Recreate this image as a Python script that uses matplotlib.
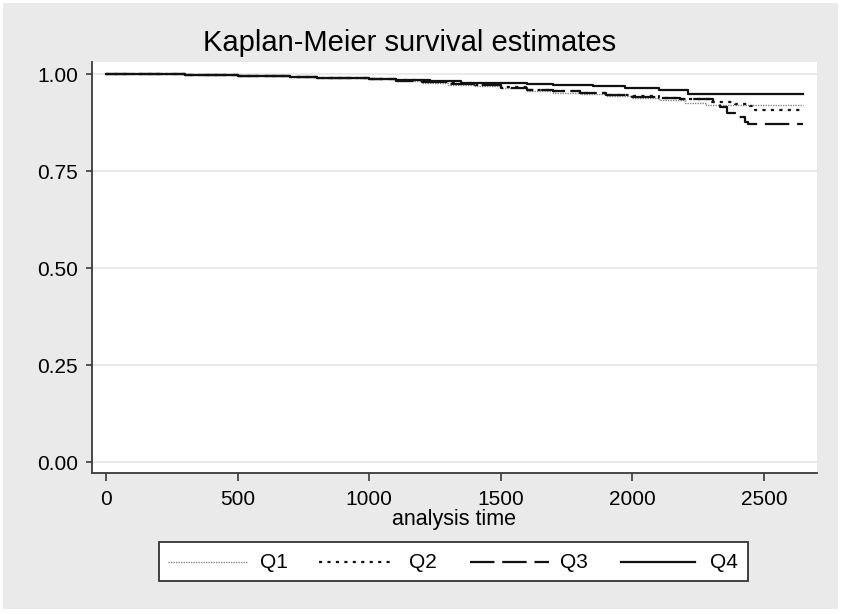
import matplotlib
matplotlib.use("Agg")
import matplotlib.pyplot as plt
from matplotlib.patches import Rectangle
from matplotlib.lines import Line2D

plt.rcParams['font.family'] = ['Liberation Sans', 'DejaVu Sans']

# ---- data ----
t_end = 2648

q1_t = [0, 100, 200, 300, 400, 500, 600, 700, 800, 900, 1000, 1100, 1200, 1300, 1400,
        1500, 1600, 1700, 1800, 1900, 2000, 2100, 2200, 2280]
q1_s = [1.000, 0.9995, 0.999, 0.998, 0.997, 0.996, 0.994, 0.993, 0.991, 0.989, 0.986,
        0.982, 0.978, 0.973, 0.968, 0.963, 0.956, 0.952, 0.948, 0.943, 0.938, 0.932,
        0.925, 0.921]

q2_t = [0, 100, 200, 300, 400, 500, 600, 700, 800, 900, 1000, 1100, 1200, 1300, 1400,
        1500, 1600, 1700, 1800, 1900, 2000, 2100, 2180, 2300, 2390, 2447, 2466]
q2_s = [1.000, 0.9995, 0.999, 0.998, 0.997, 0.996, 0.994, 0.993, 0.991, 0.989, 0.987,
        0.984, 0.980, 0.976, 0.972, 0.966, 0.960, 0.956, 0.952, 0.947, 0.943, 0.939,
        0.935, 0.929, 0.924, 0.918, 0.907]

q3_t = [0, 100, 200, 300, 400, 500, 600, 700, 800, 900, 1000, 1100, 1200, 1300, 1400,
        1500, 1600, 1700, 1800, 1900, 2000, 2100, 2180, 2306, 2333, 2359, 2397, 2428, 2439]
q3_s = [1.000, 0.9995, 0.999, 0.998, 0.997, 0.996, 0.994, 0.993, 0.991, 0.989, 0.987,
        0.983, 0.979, 0.975, 0.971, 0.965, 0.959, 0.955, 0.951, 0.946, 0.942, 0.938,
        0.935, 0.929, 0.916, 0.899, 0.890, 0.877, 0.870]

q4_t = [0, 100, 200, 300, 400, 500, 600, 700, 800, 900, 1000, 1100, 1230, 1350, 1500,
        1600, 1700, 1850, 1970, 2100, 2211]
q4_s = [1.000, 0.9995, 0.999, 0.998, 0.997, 0.996, 0.994, 0.993, 0.991, 0.989, 0.987,
        0.984, 0.981, 0.978, 0.976, 0.974, 0.972, 0.968, 0.963, 0.959, 0.948]

labels = ["Q1", "Q2", "Q3", "Q4"]
x_ticks = [0, 500, 1000, 1500, 2000, 2500]
y_ticks = [0.00, 0.25, 0.50, 0.75, 1.00]

# ---- styles ----
styles = [
    dict(color="#8a8a8a", lw=1.0, ls=(0, (1, 0.8))),
    dict(color="#111111", lw=1.6, ls=(0, (1.4, 2.4))),
    dict(color="#111111", lw=1.6, ls=(0, (11, 3.5))),
    dict(color="#111111", lw=1.6, ls="-"),
]

W, H = 842, 614
fig = plt.figure(figsize=(W / 100, H / 100), dpi=100)
fig.patch.set_facecolor("white")
fig.add_artist(Rectangle((3 / W, 1 - 609 / H), 835 / W, 606 / H,
                         transform=fig.transFigure, facecolor="#eaeaea",
                         edgecolor="none", zorder=-10))

ax = fig.add_axes([92 / W, 1 - 473 / H, (817 - 92) / W, (473 - 62) / H])
ax.set_facecolor("white")

series = [(q1_t, q1_s), (q2_t, q2_s), (q3_t, q3_s), (q4_t, q4_s)]
for (t, s), st in zip(series, styles):
    ax.step(list(t) + [t_end], list(s) + [s[-1]], where="post",
            color=st["color"], lw=st["lw"], linestyle=st["ls"])

ax.set_xlim(-53, 2701)
ax.set_ylim(-0.028, 1.031)
ax.set_xticks(x_ticks)
ax.set_yticks(y_ticks)
ax.set_yticklabels([f"{v:.2f}" for v in y_ticks])
ax.yaxis.grid(True, color="#e6e6e6", lw=1.2)
ax.set_axisbelow(True)
for sp in ["top", "right"]:
    ax.spines[sp].set_visible(False)
for sp in ["left", "bottom"]:
    ax.spines[sp].set_color("#3a3a3a")
    ax.spines[sp].set_linewidth(1.3)
ax.tick_params(axis="y", length=4, width=1.2, color="#3a3a3a", pad=6, labelsize=15)
ax.tick_params(axis="x", length=6, width=1.2, color="#3a3a3a", pad=6, labelsize=15)
ax.set_xlabel("analysis time", fontsize=15.5, labelpad=0)

fig.text(410 / W, 1 - 43 / H, "Kaplan-Meier survival estimates",
         fontsize=21, ha="center", va="center")

# ---- legend (Stata-style box) ----
fig.add_artist(Rectangle((159 / W, 1 - 581 / H), (748 - 159) / W, (581 - 542) / H,
                         transform=fig.transFigure, facecolor="white",
                         edgecolor="#333333", lw=1.3, zorder=5))
hx = [(168, 247), (319, 395), (470, 549), (621, 695)]
tx = [260, 409, 560, 710]
ly = 1 - 562 / H
for (x0, x1), xt, lab, st in zip(hx, tx, labels, styles):
    fig.add_artist(Line2D([x0 / W, x1 / W], [ly, ly], transform=fig.transFigure,
                          color=st["color"], lw=st["lw"], linestyle=st["ls"], zorder=6))
    fig.text(xt / W, ly, lab, fontsize=15, ha="left", va="center", zorder=6)

fig.savefig("out.png", dpi=100, facecolor=fig.get_facecolor())
